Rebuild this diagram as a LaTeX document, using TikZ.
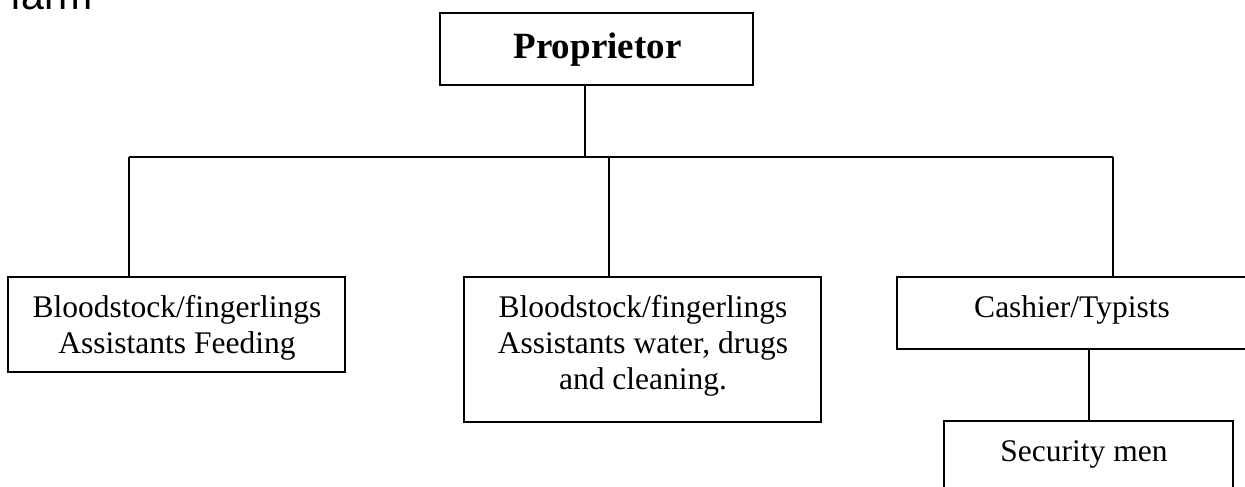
\documentclass[tikz,border=0pt]{standalone}
\usepackage{fontspec}
\setmainfont{Liberation Serif}
\newfontfamily\farmfont{Liberation Sans}
\begin{document}
\begin{tikzpicture}[x=1pt,y=-1pt,
  box/.style={draw=black, line width=1.9pt, inner sep=0pt, fill=none},
  lbl/.style={inner sep=0pt, align=center, text=black, font=\fontsize{31.5pt}{36pt}\selectfont},
  conn/.style={draw=black, line width=1.9pt}]
\useasboundingbox (0,0) rectangle (1245,487);
\clip (0,0) rectangle (1245,487);
% partial heading text, cut at top
\node[inner sep=0pt, anchor=base west, font=\farmfont\fontsize{41pt}{48pt}\selectfont] (farm) at (10,10) {farm};
% boxes
\node[box, minimum width=313pt, minimum height=72pt] (prop) at (596.5,49) {};
\node[box, minimum width=337pt, minimum height=95pt] (left) at (176.5,324.5) {};
\node[box, minimum width=357pt, minimum height=145pt] (mid) at (642.5,349.5) {};
\node[box, minimum width=350pt, minimum height=72pt] (cash) at (1072,313) {};
\node[box, minimum width=289pt, minimum height=76pt] (sec) at (1088.5,459) {};
% texts
\node[inner sep=0pt, anchor=base, font=\bfseries\fontsize{37pt}{42pt}\selectfont] (propT) at (597.5,59) {Proprietor};
\node[lbl, anchor=north] (leftT) at (177,295.3) {Bloodstock/fingerlings\\Assistants Feeding};
\node[lbl, anchor=north] (midT) at (643,295.3) {Bloodstock/fingerlings\\Assistants water, drugs\\and cleaning.};
\node[lbl, anchor=base] (cashT) at (1072,317) {Cashier/Typists};
\node[lbl, anchor=base] (secT) at (1084,461) {Security men};
% connectors
\coordinate (busL) at (129,157);
\coordinate (busR) at (1113,157);
\coordinate (propDrop) at (585,157);
\coordinate (midDrop) at (609,157);
\coordinate (cashDrop) at (1089,349);
\draw[conn] (prop.south -| propDrop) -- (propDrop);
\draw[conn] (busL) -- (busR);
\draw[conn] (busL) -- (busL |- left.north);
\draw[conn] (midDrop) -- (midDrop |- mid.north);
\draw[conn] (busR) -- (busR |- cash.north);
\draw[conn] (cash.south -| cashDrop) -- (cashDrop |- sec.north);
\end{tikzpicture}
\end{document}
